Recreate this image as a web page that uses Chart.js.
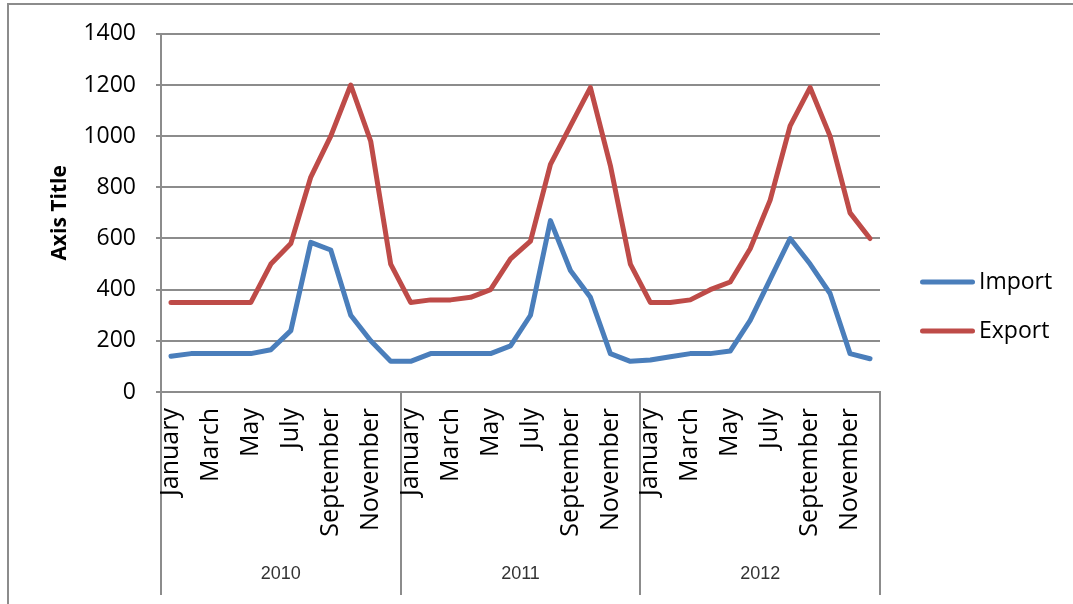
<!DOCTYPE html>
<html>
<head>
<meta charset="utf-8">
<title>Import / Export 2010–2012</title>
<script src="https://cdn.jsdelivr.net/npm/chart.js@4"></script>
<style>
  html, body { margin: 0; padding: 0; background: #fff; overflow: hidden; }
  #wrap { position: relative; width: 1073px; height: 604px; }
  #wrap canvas { position: absolute; left: 0; top: 0; }
  #frame {
    position: absolute; left: 7px; top: 3px; right: -4px; bottom: -4px;
    border-left: 2px solid #8c8c8c; border-top: 2px solid #8c8c8c;
    pointer-events: none;
  }
</style>
</head>
<body>
<div id="wrap">
  <canvas id="chart" width="1073" height="604"></canvas>
  <div id="frame"></div>
</div>
<script>
// Month names shown on the inner category level, years on the outer level
const months = ['January', 'February', 'March', 'April', 'May', 'June',
                'July', 'August', 'September', 'October', 'November', 'December'];
const years = ['2010', '2011', '2012'];
const categories = years.flatMap(() => months);

// Monthly values, January 2010 .. December 2012
const importValues = [
  140, 150, 150, 150, 150, 165, 240, 585, 555, 300, 200, 120,
  120, 150, 150, 150, 150, 180, 300, 670, 475, 370, 150, 120,
  125, 138, 150, 150, 160, 280, 440, 600, 500, 385, 150, 130
];
const exportValues = [
  350, 350, 350, 350, 350, 500, 580, 840, 1000, 1200, 980, 500,
  350, 360, 360, 370, 400, 520, 590, 890, 1040, 1190, 885, 500,
  350, 350, 360, 400, 430, 560, 750, 1040, 1190, 1000, 700, 600
];

const yTicks = { min: 0, max: 1400, step: 200 };

const GRID = '#8c8c8c';
const FONT = 'Open Sans';

// Legend drawn to the right of the plot: a short line sample and the series name
const sideLegend = {
  id: 'sideLegend',
  afterDraw(chart) {
    const { ctx, chartArea } = chart;
    const sets = chart.data.datasets;
    const lineStart = chartArea.right + 42.5;
    const lineLen = 50;
    const textX = chartArea.right + 99;
    const mid = chart.height / 2 + 4.5;
    const gap = 49;
    sets.forEach((ds, i) => {
      const y = mid + (i - (sets.length - 1) / 2) * gap;
      ctx.save();
      ctx.strokeStyle = ds.borderColor;
      ctx.lineWidth = ds.borderWidth;
      ctx.lineCap = 'round';
      ctx.beginPath();
      ctx.moveTo(lineStart, y);
      ctx.lineTo(lineStart + lineLen, y);
      ctx.stroke();
      ctx.fillStyle = '#000';
      ctx.font = `23px "${FONT}"`;
      ctx.textAlign = 'left';
      ctx.textBaseline = 'middle';
      ctx.fillText(ds.label, textX, y);
      ctx.restore();
    });
  }
};

new Chart(document.getElementById('chart'), {
  type: 'line',
  data: {
    labels: categories,
    datasets: [
      {
        label: 'Import',
        data: importValues,
        borderColor: '#4a7ebb',
        backgroundColor: '#4a7ebb',
        borderWidth: 5,
        tension: 0,
        pointRadius: 0,
        pointHoverRadius: 0,
        borderCapStyle: 'round',
        borderJoinStyle: 'round'
      },
      {
        label: 'Export',
        data: exportValues,
        borderColor: '#be4b48',
        backgroundColor: '#be4b48',
        borderWidth: 5,
        tension: 0,
        pointRadius: 0,
        pointHoverRadius: 0,
        borderCapStyle: 'round',
        borderJoinStyle: 'round'
      }
    ]
  },
  options: {
    responsive: false,
    animation: false,
    events: [],
    layout: { padding: { left: 0, top: 33, right: 193, bottom: 0 } },
    plugins: {
      legend: { display: false },
      tooltip: { enabled: false },
      title: { display: false }
    },
    scales: {
      x: {
        type: 'category',
        offset: true,
        weight: 0,
        grid: {
          offset: true,
          drawOnChartArea: false,
          tickLength: 160,
          lineWidth: 2,
          // only the year boundaries get a separator line
          color: (c) => (c.index === undefined || c.index % 12 === 0) ? GRID : 'rgba(0,0,0,0)'
        },
        border: { display: true, color: GRID, width: 2 },
        ticks: {
          autoSkip: false,
          minRotation: 90,
          maxRotation: 90,
          padding: -144,
          color: '#000',
          font: { family: FONT, size: 25 },
          callback(value, index) {
            return index % 2 === 0 ? this.getLabelForValue(value) : '';
          }
        },
        afterFit(scale) { scale.height = 160; }
      },
      x2: {
        type: 'category',
        labels: years,
        position: 'bottom',
        offset: true,
        weight: 1,
        grid: {
          offset: true,
          drawOnChartArea: false,
          tickLength: 43,
          lineWidth: 2,
          color: GRID
        },
        border: { display: false },
        ticks: {
          padding: -32,
          color: '#333',
          font: { family: 'Liberation Sans', size: 18 }
        },
        afterFit(scale) { scale.height = 52; }
      },
      y: {
        min: yTicks.min,
        max: yTicks.max,
        ticks: {
          stepSize: yTicks.step,
          padding: 20,
          color: '#000',
          font: { family: FONT, size: 23 },
          callback: (v) => String(v)
        },
        grid: { color: GRID, lineWidth: 2, tickLength: 5 },
        border: { color: GRID, width: 2 },
        title: {
          display: true,
          text: 'Axis Title',
          color: '#000',
          font: { family: FONT, size: 21, weight: 'bold' },
          padding: { top: 47, bottom: 0 }
        },
        afterFit(scale) { scale.width = 161; }
      }
    }
  },
  plugins: [sideLegend]
});
</script>
</body>
</html>
